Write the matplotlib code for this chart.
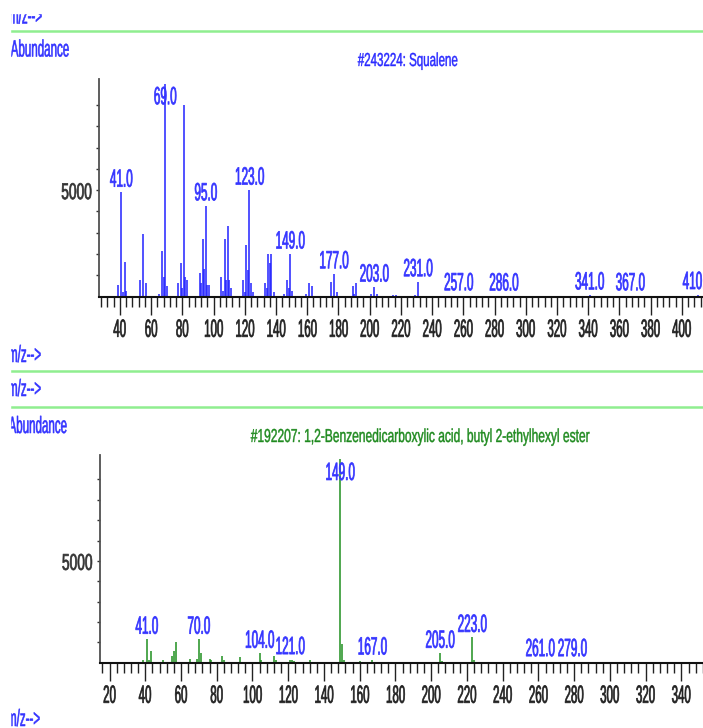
import matplotlib
matplotlib.use('Agg')
import matplotlib.pyplot as plt
from matplotlib.lines import Line2D
from matplotlib.patches import Rectangle
from matplotlib.path import Path
from matplotlib.patheffects import AbstractPathEffect
from matplotlib.transforms import Affine2D

# Squalene library spectrum (#243224)
sq_mz = [39, 41, 42, 43, 44, 53, 55, 57, 65, 67, 68, 69, 70, 77, 79, 80, 81, 82, 83,
         91, 92, 93, 94, 95, 96, 97, 105, 106, 107, 108, 109, 110, 111, 119, 120, 121,
         122, 123, 124, 125, 133, 134, 135, 136, 137, 139, 145, 147, 148, 149, 150, 159,
         161, 163, 175, 177, 179, 189, 190, 191, 201, 203, 205, 215, 217, 229, 231, 257,
         286, 341, 367, 410]
sq_abund = [550, 4900, 200, 1640, 250, 780, 2940, 630, 150, 2160, 940, 10000, 500, 630,
            1570, 400, 9000, 940, 780, 1100, 630, 2700, 1290, 4260, 550, 550, 940, 250,
            2700, 780, 3320, 780, 400, 780, 200, 2430, 1250, 5000, 630, 200, 630, 400,
            2000, 1570, 2000, 200, 150, 780, 400, 2000, 250, 120, 630, 500, 700, 1070,
            200, 500, 150, 630, 120, 450, 150, 80, 100, 80, 700, 40, 30, 80, 40, 100]
sq_labels = [41, 69, 95, 123, 149, 177, 203, 231, 257, 286, 341, 367, 410]

# 1,2-Benzenedicarboxylic acid, butyl 2-ethylhexyl ester (#192207)
ph_mz = [39, 41, 42, 43, 50, 55, 56, 57, 65, 69, 70, 71, 76, 77, 83, 84, 93, 104, 105,
         112, 113, 121, 122, 123, 132, 149, 150, 151, 160, 167, 177, 205, 206, 223, 224,
         236, 261, 279]
ph_abund = [150, 1150, 150, 590, 120, 350, 590, 1030, 200, 200, 1150, 460, 200, 150, 330,
            150, 260, 460, 150, 330, 150, 150, 120, 100, 130, 10000, 920, 150, 60, 130,
            50, 460, 100, 1240, 120, 40, 50, 50]
ph_labels = [41, 70, 104, 121, 149, 167, 205, 223, 261, 279]

W, H = 703, 728
plt.rcParams['font.family'] = 'Liberation Sans'


class Narrow(AbstractPathEffect):
    """Draw text glyphs squeezed horizontally around the text anchor,
    with an optional outline to keep the strokes from getting too thin."""

    def __init__(self, sx, anchor='center', weight=0.5):
        super().__init__()
        self.sx = sx
        self.anchor = anchor
        self.weight = weight

    def draw_path(self, renderer, gc, tpath, affine, rgbFace=None):
        v = tpath.vertices
        if tpath.codes is not None:
            v = v[tpath.codes != Path.CLOSEPOLY]
        if len(v) == 0:
            return
        if self.anchor == 'left':
            x0 = 0
        elif self.anchor == 'right':
            x0 = v[:, 0].max()
        else:
            x0 = (v[:, 0].min() + v[:, 0].max()) / 2
        squeeze = Affine2D().translate(-x0, 0).scale(self.sx, 1).translate(x0, 0)
        gc0 = renderer.new_gc()
        gc0.copy_properties(gc)
        if self.weight and rgbFace is not None:
            gc0.set_linewidth(self.weight)
            gc0.set_foreground(rgbFace)
        renderer.draw_path(gc0, tpath, squeeze + affine, rgbFace)
        gc0.restore()


fig = plt.figure(figsize=(W / 100, H / 100), dpi=100)


def put_text(x, y, s, size, sx, color, ha='left', weight=0.4):
    t = fig.text(x / W, 1 - y / H, s, fontsize=size, color=color, ha=ha, va='baseline')
    t.set_path_effects([Narrow(sx, ha, weight)])


def spectrum(left, top, bottom, xlim, mz, abund, labels, color, majors, minors):
    ax = fig.add_axes([left / W, 1 - bottom / H, 1 - left / W, (bottom - top) / H])
    ymax = 10200
    ax.vlines(mz, 0, abund, color=color, lw=1.1)
    ax.set_xlim(*xlim)
    ax.set_ylim(0, ymax)

    for side in ['top', 'right']:
        ax.spines[side].set_visible(False)
    ax.spines['left'].set_color('#505050')
    ax.spines['left'].set_linewidth(1.3)
    ax.spines['bottom'].set_color('#111111')
    ax.spines['bottom'].set_linewidth(1.5)

    ax.set_xticks(majors)
    ax.set_xticks(minors, minor=True)
    ax.tick_params(axis='x', which='major', length=13, width=1, pad=2.2,
                   labelsize=18, colors='#222222')
    ax.tick_params(axis='x', which='minor', length=7, width=1, colors='#222222')
    yt = list(range(1000, 10000, 1000))
    ax.set_yticks(yt, ['5000' if v == 5000 else '' for v in yt])
    ax.tick_params(axis='y', length=2.2, width=1, pad=2.9, labelsize=16.5,
                   colors='#333333')
    for t in ax.get_xticklabels():
        t.set_path_effects([Narrow(0.46)])
    for t in ax.get_yticklabels():
        t.set_path_effects([Narrow(0.6, 'right')])

    # peak annotations, the base peak label sits inside the frame
    for m in labels:
        a = abund[mz.index(m)]
        if a > 0.95 * ymax:
            t = ax.annotate(f'{m:.1f}', (m, ymax), xytext=(0, -4.3),
                            textcoords='offset points', ha='center', va='top')
        else:
            t = ax.annotate(f'{m:.1f}', (m, a), xytext=(0, 4),
                            textcoords='offset points', ha='center', va='baseline')
        t.set_fontsize(18)
        t.set_color('#3535ff')
        t.set_path_effects([Narrow(0.47)])
    return ax


spectrum(99.3, 79.3, 296.7, (26.8, 413.5), sq_mz, sq_abund, sq_labels, '#2222ff',
         range(40, 401, 20), range(28, 413, 4))
spectrum(100, 455, 662.7, (14.68, 352.1), ph_mz, ph_abund, ph_labels, '#1f8f1f',
         range(20, 341, 20), range(16, 353, 4))

# separator lines between the panels
for y in [30.7, 371, 407.3]:
    fig.add_artist(Line2D([10 / W, 1], [1 - y / H] * 2, transform=fig.transFigure,
                          color='#90ee90', lw=1.8))

blue = '#3333ff'
put_text(9, 23.5, 'm/z-->', 17, 0.49, blue)
put_text(10.7, 56.5, 'Abundance', 17, 0.49, blue)
put_text(408, 66, '#243224: Squalene', 13.5, 0.615, '#2a2aff', ha='center', weight=0.3)
put_text(8, 362, 'm/z-->', 17, 0.49, blue)
put_text(8, 396, 'm/z-->', 17, 0.49, blue)
put_text(8.5, 433, 'Abundance', 17, 0.49, blue)
put_text(420, 442, '#192207: 1,2-Benzenedicarboxylic acid, butyl 2-ethylhexyl ester',
         13.5, 0.64, '#1f8a1f', ha='center', weight=0.3)
put_text(7, 726, 'm/z-->', 17, 0.49, blue)

# white margins along the top and left edges
fig.add_artist(Rectangle((0, 1 - 13 / H), 1, 13 / H, transform=fig.transFigure,
                         color='white', zorder=10))
fig.add_artist(Rectangle((0, 0), 10 / W, 1, transform=fig.transFigure,
                         color='white', zorder=10))

fig.savefig('out.png', dpi=100)
